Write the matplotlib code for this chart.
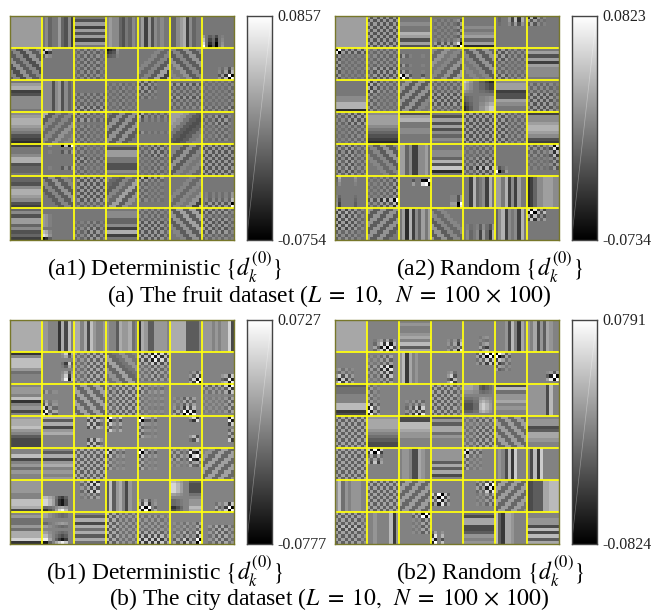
import numpy as np
import matplotlib
matplotlib.use('Agg')
import matplotlib.pyplot as plt

plt.rcParams['font.family'] = ['Liberation Serif', 'DejaVu Serif']
plt.rcParams['mathtext.fontset'] = 'stix'

# each filter read from the picture as "row profile|column profile", digits 0-9, 5 = zero
# "/" and "~" in place of the columns: the profile runs along a diagonal
a1_filters = [
    "7777777777|", "|5645574362", "5372737275|", "|6766435465", "|5727365655", "|4467826455", "5555556789|9524056555",
    "6372637263|~", "8265555555|2975555555", "6464646464|4738273846", "8765555555|1236555555", "5556463819|/", "6373637565|~", "5555556719|5555564719",
    "5782366665|", "|6663673645", "5555464637|3737373737", "5464646464|4646374646", "3737465555|3737465555", "5364636465|3737373737", "4646464637|4646464637",
    "6788765321|", "9364647565|/", "3635464646|3737364646", "5373737355|/", "7345556555|2846464646", "8875323566|/", "5373646465|4646373745",
    "2556883445|", "9565555655|5565551729", "4646374646|3737464646", "5377553365|", "3737464646|4646373746", "6637365645|/", "3737373737|3737373737",
    "4436887632|", "5637363555|~", "3737373746|5737373737", "6436483755|/", "1746464655|7374646455", "5556465719|/", "5555566719|5646464649",
    "4637746342|", "5566665782|9865555555", "5555463737|4646373746", "5664462825|", "4646373737|3737373746", "2838373655|~", "3747373746|3737473746",
]
a2_filters = [
    "7777777777|", "3737373737|3737373737", "5565587373|", "5464646419|5464646429", "5556567471|", "7765555555|5455729185", "7465555555|1917465555",
    "9164646464|1946464646", "4646463737|4637373737", "5565565619|1936555655", "6475647386|/", "4737365655|~", "3737464637|3737464646", "5737276665|",
    "5555566881|", "3737464646|2837464646", "4737373656|/", "4646373746|3737373737", "8776544322|8765544322", "6772337655|", "5646373737|4737373746",
    "3737464646|4646373737", "6777654321|", "3785566555|", "5373736465|", "3737373737|3737373737", "3737373737|3737464646", "2667887632|",
    "3737373737|4747374646", "6373646555|~", "|7746226675", "5566483915|", "4646373937|4646373737", "5555555695|9146555555", "8273646455|4646465719",
    "8765554322|4755556555", "4646464937|4646373719", "5915555555|5555455219", "5555556698|5555556619", "|5528456285", "|7758262755", "|1246677766",
    "3737373646|2838373645", "7373737355|/", "|5718264757", "5556463737|~", "5555566777|5645627418", "|4682656285", "8173555555|8193635555",
]
b1_filters = [
    "7777777777|", "|6655517285", "|7757286556", "|6553766745", "|1763366665", "|7777733335", "|6665656692",
    "1588864555|", "7653456785|5555556917", "3737373737|4646373737", "5464373646|~", "8283646465|3737192837", "5555556391|5555554719", "5555555728|5555556719",
    "5665815625|", "5565567291|2846655555", "3737373737|~", "3737373737|4747373737", "7374646464|2746565655", "5555646719|5646192855", "9375646465|4646464719",
    "6778653222|", "7372675555|", "3737555737|5555282865", "9274755555|2965755555", "9164646555|1966565555", "8255557355|5555556825", "8275646355|5555555519",
    "5582564655|", "5372675656|", "3737373737|3737373737", "8274646555|2846565555", "8174646555|1946565555", "7282645555|4646561893", "5637373736|/",
    "6666558872|", "5555578842|8876421355", "2838465555|5546382855", "|3836752655", "5555556719|7291565555", "7888654423|8876553333", "5555555719|5555465719",
    "5644647791|", "6654656791|8865432355", "5372747374|", "3737373737|2737464646", "5646463819|3737373746", "5556463719|5646374619", "5555373737|5546373746",
]
b2_filters = [
    "7777777777|", "5555556818|5546829175", "5655675837|", "5555556748|5555564719", "5555564718|5555546755", "|5556285175", "|6572637655",
    "5555564819|6837465555", "5646283746|4646281955", "|6817565555", "5555556829|5555568355", "1937555555|5555637191", "1937465555|9136455555", "5555556195|5555556819",
    "3445558812|", "4646462919|2846555555", "5555546839|5546382855", "3737373737|3737373746", "7765432235|7776632345", "2846675655|", "|6666662855",
    "3737373737|3737373737", "6777654322|", "2288766555|", "3637746555|", "4747373737|4646373737", "3737373737|~", "5662377655|",
    "3737373737|3737373737", "9146755555|7291755555", "|5665227655", "6666373725|", "8174646555|2946465555", "|5652819555", "|5281955555",
    "|6846566655", "3737373737|3737373737", "3737373737|/", "5555192855|3619365555", "7192464655|5555646281", "3737373746|/", "|2233377888",
    "3737283737|3737373746", "|5565555816", "9164646555|5555646192", "5555556829|2957555555", "4277223656|", "|8317765555", "5566282837|",
]

a1_range = (-0.0754, 0.0857)
a2_range = (-0.0734, 0.0823)
b1_range = (-0.0777, 0.0727)
b2_range = (-0.0824, 0.0791)

captions = [r"(a1) Deterministic $\{d_k^{(0)}\}$", r"(a2) Random $\{d_k^{(0)}\}$",
            r"(b1) Deterministic $\{d_k^{(0)}\}$", r"(b2) Random $\{d_k^{(0)}\}$"]
dataset_titles = [r"(a) The fruit dataset ($L\;=\;10,\;\;N\;=\;100\,\times\,100$)",
                  r"(b) The city dataset ($L\;=\;10,\;\;N\;=\;100\,\times\,100$)"]

W, H = 660, 612
L = 10
K = 7


def digits(s):
    return (np.array([int(c) for c in s], dtype=float) - 5) / 4


def make_filter(spec):
    r, c = spec.split('|')
    if c == '/' or c == '~':
        p = digits(r)
        d = np.zeros((L, L))
        for i in range(L):
            for j in range(L):
                d[i, j] = p[(i + j) // 2] if c == '/' else p[(i - j + L - 1) // 2]
        return d * 0.4
    if r == '':
        return np.tile(digits(c), (L, 1)) * 0.55
    if c == '':
        return np.tile(digits(r)[:, None], (1, L)) * 0.55
    return np.outer(digits(r), digits(c))


def mosaic(filters):
    rows = []
    for k in range(K):
        rows.append(np.hstack([make_filter(s) for s in filters[k * K:(k + 1) * K]]))
    return np.vstack(rows) * 0.085


def px_axes(fig, x0, y0, x1, y1):
    return fig.add_axes([x0 / W, 1 - y1 / H, (x1 - x0) / W, (y1 - y0) / H])


def draw_panel(fig, filters, vrange, x0, y0):
    x1, y1 = x0 + 224, y0 + 224
    ax = px_axes(fig, x0, y0, x1, y1)
    ax.imshow(mosaic(filters), cmap='gray', vmin=vrange[0], vmax=vrange[1],
              interpolation='nearest', aspect='auto')
    for k in range(1, K):
        ax.axvline(k * L - 0.5, color='#ffff10', lw=1.3)
        ax.axhline(k * L - 0.5, color='#ffff10', lw=1.3)
    ax.set_xticks([])
    ax.set_yticks([])
    for s in ax.spines.values():
        s.set_color('#77772a')
        s.set_linewidth(1.0)

    cx0 = x1 + 13
    cax = px_axes(fig, cx0, y0, cx0 + 25, y1)
    grad = np.linspace(1, 0, 256)[:, None]
    cax.imshow(grad, cmap='gray', aspect='auto', extent=[0, 1, 0, 1])
    cax.plot([0, 1], [0, 1], color='white', lw=0.5, alpha=0.35)
    cax.set_xlim(0, 1)
    cax.set_ylim(0, 1)
    cax.set_xticks([])
    cax.set_yticks([])
    for s in cax.spines.values():
        s.set_color('#444444')
        s.set_linewidth(1.0)
    fig.text((cx0 + 31) / W, 1 - (y0 + 1) / H, f"{vrange[1]:.4f}", fontsize=11.5, va='center', color='#222222')
    fig.text((cx0 + 31) / W, 1 - (y1 + 1) / H, f"{vrange[0]:.4f}", fontsize=11.5, va='center', color='#222222')


fig = plt.figure(figsize=(W / 100, H / 100), dpi=100)
draw_panel(fig, a1_filters, a1_range, 9.5, 16)
draw_panel(fig, a2_filters, a2_range, 334.5, 16)
draw_panel(fig, b1_filters, b1_range, 9.5, 320)
draw_panel(fig, b2_filters, b2_range, 334.5, 320)

fs = 17
fig.text(165 / W, 1 - 267 / H, captions[0], fontsize=fs, ha='center', va='center')
fig.text(490 / W, 1 - 267 / H, captions[1], fontsize=fs, ha='center', va='center')
fig.text(165 / W, 1 - 571 / H, captions[2], fontsize=fs, ha='center', va='center')
fig.text(490 / W, 1 - 571 / H, captions[3], fontsize=fs, ha='center', va='center')
fig.text(329 / W, 1 - 296 / H, dataset_titles[0], fontsize=fs, ha='center', va='center')
fig.text(329 / W, 1 - 599 / H, dataset_titles[1], fontsize=fs, ha='center', va='center')

fig.savefig('out.png', dpi=100)
